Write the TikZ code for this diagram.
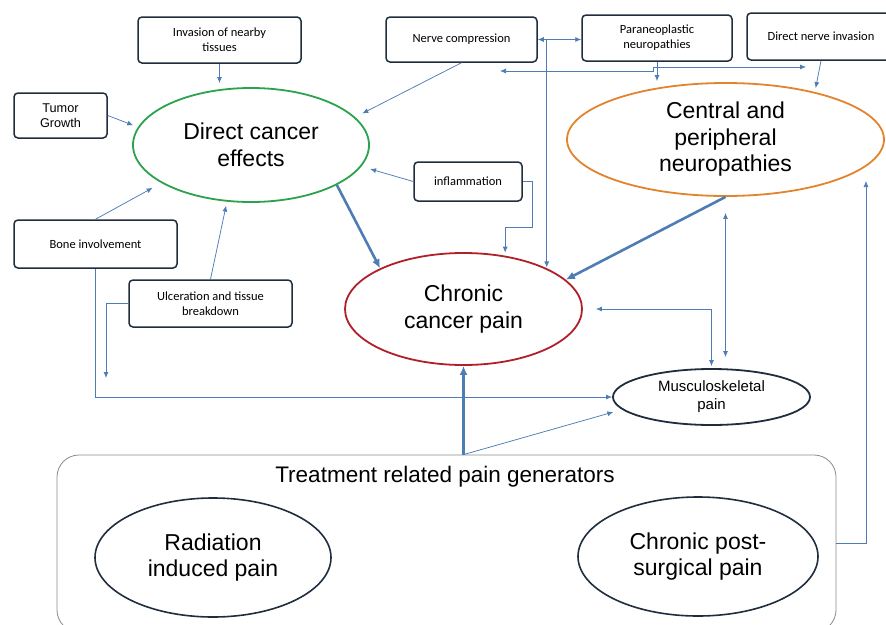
\documentclass[tikz,border=0pt]{standalone}
\usepackage{fontspec}
\setmainfont{Liberation Sans}
\newfontfamily\calfont{Carlito}
\usetikzlibrary{shapes.geometric,arrows.meta,calc}
\definecolor{navy}{HTML}{1F2D3D}
\definecolor{lineblue}{HTML}{4E7DB5}
\definecolor{cgreen}{HTML}{2BA24C}
\definecolor{corange}{HTML}{E2842C}
\definecolor{cred}{HTML}{B0202A}
\definecolor{tgray}{HTML}{8A8A8A}
\begin{document}
\begin{tikzpicture}[x=1pt,y=-1pt,
 box/.style={draw=navy, line width=1.5pt, rounded corners=4pt, fill=white, align=center, inner sep=0pt, font=\calfont\fontsize{12.5}{15}\selectfont},
 bigell/.style={ellipse, line width=1.8pt, inner sep=0pt, align=center, font=\fontsize{23}{26.5}\selectfont},
 smell/.style={ellipse, draw=navy, line width=1.6pt, inner sep=0pt, align=center},
 arr/.style={draw=lineblue, line width=0.75pt, -{Latex[length=6pt,width=5pt]}},
 darr/.style={draw=lineblue, line width=0.75pt, {Latex[length=6pt,width=5pt]}-{Latex[length=6pt,width=5pt]}},
 barr/.style={draw=lineblue, line width=2.6pt, -{Latex[length=9pt,width=8pt]}}]
\useasboundingbox (0,0) rectangle (886,624);
\clip (0,0) rectangle (886,624);

% treatment container
\node[draw=tgray, line width=0.8pt, rounded corners=22pt, minimum width=779pt, minimum height=177pt, inner sep=0pt] (treat) at (446.5,543.5) {};
\node[font=\fontsize{22.5}{26}\selectfont, inner sep=0pt] (ttl) at (445,477) {Treatment related pain generators};
\node[smell, minimum width=236pt, minimum height=119pt, font=\fontsize{23}{26}\selectfont] (rad) at (213,557.5) {Radiation\\induced pain};
\node[smell, minimum width=240pt, minimum height=119pt, font=\fontsize{23}{26}\selectfont] (cps) at (698,556.5) {Chronic post-\\surgical pain};

% boxes
\node[box, minimum width=163pt, minimum height=46pt] (inv) at (219.5,40) {Invasion of nearby\\tissues};
\node[box, font=\fontsize{12.7}{15}\selectfont, minimum width=93pt, minimum height=45pt] (tumor) at (60.5,115.5) {Tumor\\Growth};
\node[box, minimum width=151pt, minimum height=45pt] (nerve) at (461.5,39.5) {Nerve compression};
\node[box, minimum width=150pt, minimum height=46pt] (para) at (657,38) {Paraneoplastic\\neuropathies};
\node[box, minimum width=148pt, minimum height=47pt] (dni) at (821,36.5) {Direct nerve invasion};
\node[box, minimum width=108pt, minimum height=39pt] (infl) at (468,181.5) {inflammation};
\node[box, minimum width=163pt, minimum height=48pt] (bone) at (95.5,244) {Bone involvement};
\node[box, minimum width=163pt, minimum height=47pt] (ulc) at (210.5,303.5) {Ulceration and tissue\\breakdown};

% ellipses
\node[bigell, draw=cgreen, minimum width=236pt, minimum height=114pt] (direct) at (251,145) {Direct cancer\\effects};
\node[bigell, draw=corange, minimum width=317pt, minimum height=113pt] (cpn) at (725.5,139.5) {Central and\\peripheral\\neuropathies};
\node[bigell, draw=cred, minimum width=237pt, minimum height=112pt] (chronic) at (463.5,309) {Chronic\\cancer pain};
\node[smell, line width=1.8pt, minimum width=197pt, minimum height=56pt, font=\fontsize{15}{18}\selectfont] (msk) at (711.5,397) {Musculoskeletal\\pain};

% free ends
\coordinate (vx) at ($(nerve.east)+(9,0)$);
\coordinate (hl) at (500,71);
\coordinate (hr) at (806,67);
\coordinate (ulcend) at (106,378);
\coordinate (tend) at (866,181);

% connectors
\draw[arr, shorten >=4pt] (inv.south) -- (inv.south |- direct.north);
\draw[arr, shorten >=5pt] (tumor.east) -- (direct.171);
\draw[arr, shorten >=8pt] (nerve.south) -- (direct.15);
\draw[arr, shorten >=9pt] (infl.west) -- (direct.-11);
\draw[arr, shorten >=3pt] (infl.east) -- ++(10,0) -- ++(0,45.5) -| (chronic.52);
\draw[darr] (nerve.east) -- (nerve.east -| para.west);
\draw[arr] (vx) -- (vx |- chronic.27);
\draw[arr, shorten >=1pt] (para.south) -- (para.south |- cpn.north);
\draw[darr] (hl) -- ++(153,0) |- (hr);
\draw[arr, shorten >=4pt] (dni.south) -- (cpn.28);
\draw[barr] (direct.-25) -- (chronic.154);
\draw[barr] (cpn.south) -- (chronic.16);
\draw[darr, shorten <=16pt, shorten >=11pt] (cpn.south) -- (cpn.south |- msk.north);
\draw[darr, shorten >=13pt, shorten <=2pt] (msk.north) |- (chronic.east);
\draw[arr, shorten >=10pt] (bone.north) -- (direct.-157);
\draw[arr] (bone.south) |- (msk.west);
\draw[arr, shorten >=4pt] (ulc.north) -- (direct.-113);
\draw[arr] (ulc.west) -| (ulcend);
\draw[barr] (chronic.south |- treat.north) -- (chronic.south);
\draw[arr, shorten >=9pt] (chronic.south |- treat.north) -- (msk.-172);
\draw[arr] (treat.east) -| (tend);
\end{tikzpicture}
\end{document}
